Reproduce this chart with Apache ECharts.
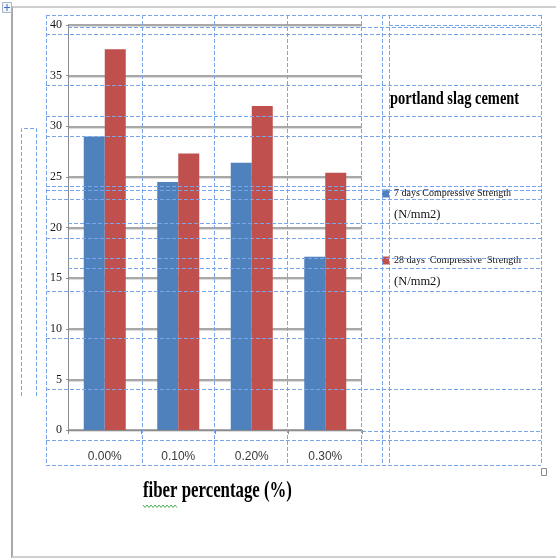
<!DOCTYPE html>
<html>
<head>
<meta charset="utf-8">
<script src="https://cdn.jsdelivr.net/npm/echarts@6/dist/echarts.min.js"></script>
<style>
  html, body { margin: 0; padding: 0; background: #ffffff; }
  #chart { width: 556px; height: 558px; }
</style>
</head>
<body>
<div id="chart"></div>
<script>
// Fiber percentage categories and compressive strengths (N/mm2)
const categories = ['0.00%', '0.10%', '0.20%', '0.30%'];
const strength7 = [29.0, 24.5, 26.4, 17.1];
const strength28 = [37.6, 27.3, 32.0, 25.4];
const seriesNames = ['7 days Compressive Strength (N/mm2)', '28 days  Compressive  Strength (N/mm2)'];
const yMin = 0, yMax = 40, yStep = 5;

const chart = echarts.init(document.getElementById('chart'), null, { renderer: 'canvas' });

// Table cell borders of the surrounding layout (dashed blue)
const dash = { stroke: '#79a6ea', lineWidth: 1, lineDash: [4, 2] };
const hLines = [
  [15, 46], [25, 389], [27, 68], [34, 46], [85, 46], [116, 46], [136, 46],
  [186, 46], [190, 46], [199, 46], [223, 68], [238, 46], [258, 68], [268, 68],
  [291, 46], [338, 46], [389, 46], [431, 362], [440, 46], [465, 46]
];
const vLines = [46, 142, 214, 287, 361, 382, 389, 541];

const graphics = [];
hLines.forEach(function (h) {
  graphics.push({ type: 'line', z: 100, silent: true,
    shape: { x1: h[1], y1: h[0] + 0.5, x2: 541, y2: h[0] + 0.5 }, style: dash });
});
vLines.forEach(function (x) {
  graphics.push({ type: 'line', z: 100, silent: true,
    shape: { x1: x + 0.5, y1: 15, x2: x + 0.5, y2: 465 }, style: dash });
});
// narrow side box on the left
graphics.push({ type: 'polyline', z: 100, silent: true,
  shape: { points: [[21.5, 396], [21.5, 128.5], [36.5, 128.5], [36.5, 396]] },
  style: Object.assign({ fill: null }, dash) });

// page edges
graphics.push({ type: 'line', silent: true, shape: { x1: 12, y1: 7, x2: 556, y2: 7 },
  style: { stroke: '#cfcfcf', lineWidth: 2 } });
graphics.push({ type: 'line', silent: true, shape: { x1: 12, y1: 7, x2: 12, y2: 558 },
  style: { stroke: '#a8a8a8', lineWidth: 2 } });
graphics.push({ type: 'line', silent: true, shape: { x1: 12, y1: 557, x2: 556, y2: 557 },
  style: { stroke: '#cfcfcf', lineWidth: 2 } });

// move handle (top-left) and resize handle (bottom-right)
graphics.push({ type: 'rect', z: 101, silent: true, shape: { x: 2.5, y: 2.5, width: 9, height: 10 },
  style: { fill: '#f4f6fa', stroke: '#a9b4c4', lineWidth: 1 } });
graphics.push({ type: 'line', z: 102, silent: true, shape: { x1: 4, y1: 7.5, x2: 10, y2: 7.5 },
  style: { stroke: '#3d6fc4', lineWidth: 1 } });
graphics.push({ type: 'line', z: 102, silent: true, shape: { x1: 7, y1: 4, x2: 7, y2: 11 },
  style: { stroke: '#3d6fc4', lineWidth: 1 } });
graphics.push({ type: 'rect', z: 101, silent: true, shape: { x: 541.5, y: 468.5, width: 5, height: 7 },
  style: { fill: '#ffffff', stroke: '#8a8a8a', lineWidth: 1 } });

// chart heading and category axis caption
graphics.push({ type: 'text', z: 101, silent: true, x: 390, y: 109, scaleX: 0.76,
  style: { text: 'portland slag cement', font: 'bold 19px "Liberation Serif", serif',
    fill: '#000000', textAlign: 'left', textVerticalAlign: 'bottom' } });
graphics.push({ type: 'text', z: 101, silent: true, x: 143, y: 503, scaleX: 0.7,
  style: { text: 'fiber percentage (%)', font: 'bold 24px "Liberation Serif", serif',
    fill: '#000000', textAlign: 'left', textVerticalAlign: 'bottom' } });
// spell-check squiggle under "fiber"
const squiggle = [];
for (let x = 143; x <= 178; x += 2) squiggle.push([x, (x - 143) % 4 === 0 ? 505 : 507.5]);
graphics.push({ type: 'polyline', z: 101, silent: true, shape: { points: squiggle },
  style: { stroke: '#4fae4f', lineWidth: 1, fill: null } });

function legendFor(name, top) {
  return {
    data: [name], left: 382, top: top, padding: 0, orient: 'vertical',
    icon: 'rect', itemWidth: 7, itemHeight: 8, selectedMode: false,
    formatter: function (n) {
      const cut = n.lastIndexOf(' (');
      return '{s| }\n{a|' + n.slice(0, cut) + '}\n{b|' + n.slice(cut + 1) + '}';
    },
    textStyle: {
      rich: {
        s: { fontSize: 10, lineHeight: 29, fontFamily: 'Liberation Serif' },
        a: { fontSize: 10, lineHeight: 14, fontFamily: 'Liberation Serif', color: '#111' },
        b: { fontSize: 12.5, lineHeight: 29, fontFamily: 'Liberation Serif', color: '#111' }
      }
    }
  };
}

chart.setOption({
  animation: false,
  backgroundColor: '#ffffff',
  color: ['#4f81bd', '#c0504d'],
  grid: { left: 68, right: 194, top: 25, bottom: 128, containLabel: false },
  legend: [legendFor(seriesNames[0], 167), legendFor(seriesNames[1], 234)],
  xAxis: {
    type: 'category', data: categories,
    axisLine: { lineStyle: { color: '#8c8c8c', width: 1 } },
    axisTick: { show: true, alignWithLabel: false, length: 4, lineStyle: { color: '#8c8c8c' } },
    axisLabel: { margin: 21, fontSize: 12, fontFamily: 'Liberation Sans', color: '#3a3a3a' },
    splitLine: { show: false }
  },
  yAxis: {
    type: 'value', min: yMin, max: yMax, interval: yStep,
    axisLine: { show: true, lineStyle: { color: '#8c8c8c', width: 1 } },
    axisTick: { show: true, length: 2, lineStyle: { color: '#8c8c8c' } },
    axisLabel: { margin: 6, fontSize: 12, fontFamily: 'Liberation Serif', color: '#1a1a1a' },
    splitLine: { show: true, lineStyle: { color: '#a8a8a8', width: 2,
      shadowColor: 'rgba(0,0,0,0.15)', shadowOffsetY: 1, shadowBlur: 1 } }
  },
  series: [
    { name: seriesNames[0], type: 'bar', data: strength7, barWidth: 21, barGap: '0%' },
    { name: seriesNames[1], type: 'bar', data: strength28, barWidth: 21, barGap: '0%' }
  ],
  graphic: { elements: graphics }
});
</script>
</body>
</html>
